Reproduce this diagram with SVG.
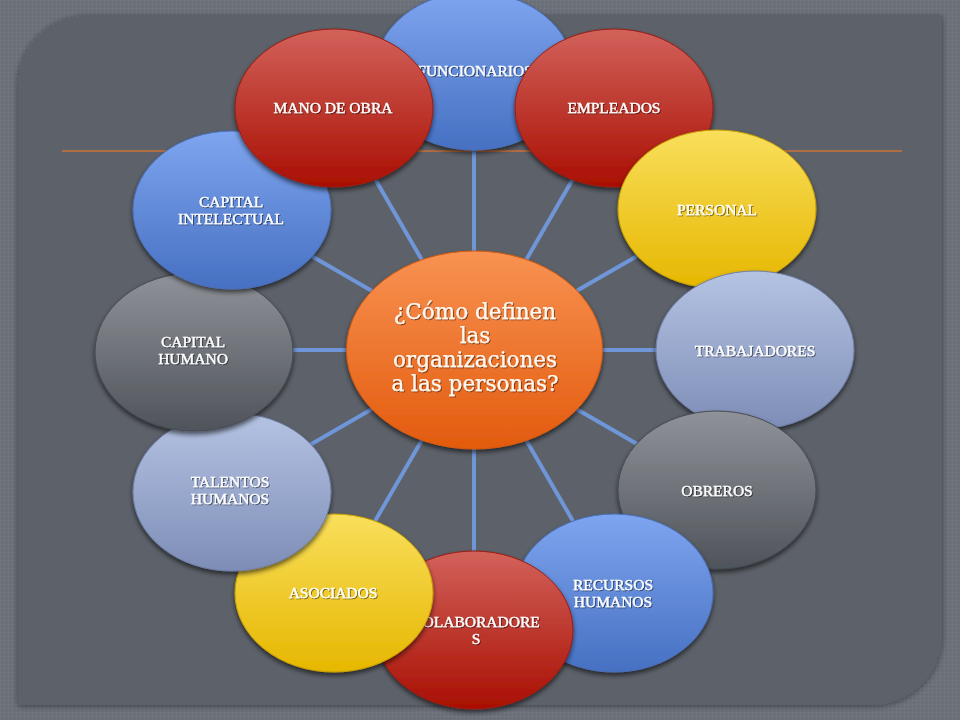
<svg xmlns="http://www.w3.org/2000/svg" width="960" height="720" viewBox="0 0 960 720">
<defs>
  <pattern id="tex" width="4" height="4" patternUnits="userSpaceOnUse">
    <rect width="4" height="4" fill="#6c717a"/>
    <rect x="0" y="0" width="1" height="1" fill="#777c85"/>
    <rect x="2" y="2" width="1" height="1" fill="#62676f"/>
  </pattern>
  <linearGradient id="gBlue" x1="0" y1="0" x2="0" y2="1">
    <stop offset="0" stop-color="#7ea5ef"/>
    <stop offset="1" stop-color="#4670c2"/>
  </linearGradient>
  <linearGradient id="gRed" x1="0" y1="0" x2="0" y2="1">
    <stop offset="0" stop-color="#d2625b"/>
    <stop offset="1" stop-color="#a90f02"/>
  </linearGradient>
  <linearGradient id="gYellow" x1="0" y1="0" x2="0" y2="1">
    <stop offset="0" stop-color="#f9df5c"/>
    <stop offset="1" stop-color="#e6b700"/>
  </linearGradient>
  <linearGradient id="gLight" x1="0" y1="0" x2="0" y2="1">
    <stop offset="0" stop-color="#b5c3e3"/>
    <stop offset="1" stop-color="#7d8db6"/>
  </linearGradient>
  <linearGradient id="gGray" x1="0" y1="0" x2="0" y2="1">
    <stop offset="0" stop-color="#8f9399"/>
    <stop offset="1" stop-color="#4f535a"/>
  </linearGradient>
  <linearGradient id="gOrange" x1="0" y1="0" x2="0" y2="1">
    <stop offset="0" stop-color="#f89252"/>
    <stop offset="1" stop-color="#e35b0e"/>
  </linearGradient>
  <filter id="sh" x="-10%" y="-10%" width="120%" height="125%">
    <feGaussianBlur in="SourceAlpha" stdDeviation="2.5"/>
    <feOffset dx="0" dy="3" result="b"/>
    <feComponentTransfer><feFuncA type="linear" slope="0.6"/></feComponentTransfer>
    <feMerge><feMergeNode/><feMergeNode in="SourceGraphic"/></feMerge>
  </filter>
  <filter id="tsh" x="-5%" y="-20%" width="110%" height="140%">
    <feGaussianBlur in="SourceAlpha" stdDeviation="0.6"/>
    <feOffset dx="0.6" dy="0.8"/>
    <feComponentTransfer><feFuncA type="linear" slope="0.5"/></feComponentTransfer>
    <feMerge><feMergeNode/><feMergeNode in="SourceGraphic"/></feMerge>
  </filter>
  <filter id="psh" x="-5%" y="-5%" width="110%" height="110%">
    <feGaussianBlur in="SourceAlpha" stdDeviation="3"/>
    <feOffset dx="0" dy="1"/>
    <feComponentTransfer><feFuncA type="linear" slope="0.45"/></feComponentTransfer>
    <feMerge><feMergeNode/><feMergeNode in="SourceGraphic"/></feMerge>
  </filter>
</defs>
<style>
  .node ellipse { filter: url(#sh); stroke-width: 1; }
  .blue { fill: url(#gBlue); stroke: #4a6fb8; }
  .red { fill: url(#gRed); stroke: #9a1c12; }
  .yellow { fill: url(#gYellow); stroke: #c9a000; }
  .light { fill: url(#gLight); stroke: #6f7ea6; }
  .gray { fill: url(#gGray); stroke: #474b52; }
  .orange { fill: url(#gOrange); stroke: #d45a10; }
  .lbl { font-family: "Liberation Serif", "Times New Roman", serif; font-size: 15.5px; fill: #ffffff; stroke: #ffffff; stroke-width: 0.35; text-anchor: middle; filter: url(#tsh); }
  .ctr { font-family: "DejaVu Serif", "Liberation Serif", serif; font-size: 21.5px; fill: #fff8f0; stroke: #fff8f0; stroke-width: 0.25; text-anchor: middle; filter: url(#tsh); }
  .spoke { stroke: #6f96d8; stroke-width: 4; fill: none; }
</style>

<rect x="0" y="0" width="960" height="720" fill="url(#tex)"/>
<path d="M18,86 A70,70 0 0 1 88,16 L942,16 L942,635 A70,70 0 0 1 872,705 L18,705 Z" fill="#5d626a" filter="url(#psh)"/>
<line x1="62" y1="151" x2="902" y2="151" stroke="#cc7136" stroke-width="1.5"/>

<g id="connectors">
  <line class="spoke" x1="474" y1="350" x2="474" y2="70"/>
  <line class="spoke" x1="474" y1="350" x2="614" y2="108"/>
  <line class="spoke" x1="474" y1="350" x2="717" y2="210"/>
  <line class="spoke" x1="474" y1="350" x2="755" y2="350"/>
  <line class="spoke" x1="474" y1="350" x2="717" y2="490"/>
  <line class="spoke" x1="474" y1="350" x2="614" y2="592"/>
  <line class="spoke" x1="474" y1="350" x2="474" y2="630"/>
  <line class="spoke" x1="474" y1="350" x2="334" y2="592"/>
  <line class="spoke" x1="474" y1="350" x2="232" y2="490"/>
  <line class="spoke" x1="474" y1="350" x2="194" y2="350"/>
  <line class="spoke" x1="474" y1="350" x2="232" y2="210"/>
  <line class="spoke" x1="474" y1="350" x2="334" y2="108"/>
</g>

<g id="center" class="node">
  <ellipse class="orange" cx="474.5" cy="350" rx="128" ry="99"/>
  <text class="ctr" x="475" y="319">¿Cómo definen</text>
  <text class="ctr" x="475" y="343">las</text>
  <text class="ctr" x="475" y="367">organizaciones</text>
  <text class="ctr" x="475" y="391">a las personas?</text>
</g>

<g id="funcionarios" class="node">
  <ellipse class="blue" cx="474" cy="71" rx="99" ry="79"/>
  <text class="lbl" x="475" y="75.5">FUNCIONARIOS</text>
</g>
<g id="empleados" class="node">
  <ellipse class="red" cx="614" cy="108" rx="99" ry="79"/>
  <text class="lbl" x="614" y="113">EMPLEADOS</text>
</g>
<g id="personal" class="node">
  <ellipse class="yellow" cx="717" cy="209" rx="99" ry="79"/>
  <text class="lbl" x="717" y="215">PERSONAL</text>
</g>
<g id="trabajadores" class="node">
  <ellipse class="light" cx="755" cy="350" rx="99" ry="79"/>
  <text class="lbl" x="755" y="355.5">TRABAJADORES</text>
</g>
<g id="obreros" class="node">
  <ellipse class="gray" cx="717" cy="490" rx="99" ry="79"/>
  <text class="lbl" x="717" y="496">OBREROS</text>
</g>
<g id="recursos" class="node">
  <ellipse class="blue" cx="614" cy="593" rx="99" ry="79"/>
  <text class="lbl" x="613" y="590">RECURSOS</text>
  <text class="lbl" x="613" y="607">HUMANOS</text>
</g>
<g id="colaboradores" class="node">
  <ellipse class="red" cx="474" cy="630" rx="99" ry="79"/>
  <text class="lbl" x="476" y="627">COLABORADORE</text>
  <text class="lbl" x="476" y="644">S</text>
</g>
<g id="asociados" class="node">
  <ellipse class="yellow" cx="334" cy="593" rx="99" ry="79"/>
  <text class="lbl" x="333" y="598">ASOCIADOS</text>
</g>
<g id="talentos" class="node">
  <ellipse class="light" cx="232" cy="492" rx="99" ry="79"/>
  <text class="lbl" x="230" y="487">TALENTOS</text>
  <text class="lbl" x="230" y="504">HUMANOS</text>
</g>
<g id="capital-humano" class="node">
  <ellipse class="gray" cx="194" cy="352" rx="99" ry="79"/>
  <text class="lbl" x="193" y="347">CAPITAL</text>
  <text class="lbl" x="193" y="364">HUMANO</text>
</g>
<g id="capital-intelectual" class="node">
  <ellipse class="blue" cx="232" cy="210" rx="99" ry="79"/>
  <text class="lbl" x="231" y="207">CAPITAL</text>
  <text class="lbl" x="231" y="224">INTELECTUAL</text>
</g>
<g id="mano-de-obra" class="node">
  <ellipse class="red" cx="334" cy="108" rx="99" ry="79"/>
  <text class="lbl" x="333" y="113">MANO DE OBRA</text>
</g>
</svg>
